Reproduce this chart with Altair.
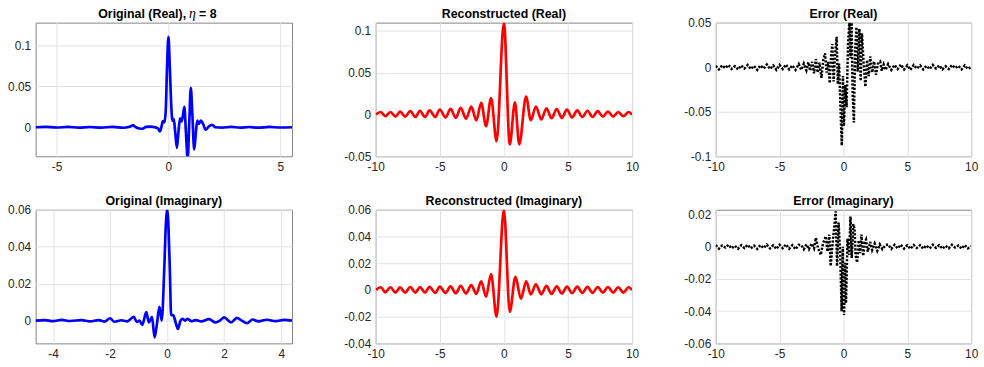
import altair as alt
import pandas as pd

FONT = "Liberation Sans"

# ---------------- Original (Real) ----------------
orig_re_x = [-5.93, -5.5, -5.0, -4.5, -4.0, -3.5, -3.0, -2.5, -2.0, -1.75, -1.58, -1.45, -1.3, -1.16,
             -1.0, -0.8, -0.6, -0.45, -0.38, -0.3, -0.25, -0.18, -0.12, -0.06, 0.0, 0.06, 0.12, 0.18,
             0.24, 0.3, 0.38, 0.45, 0.52, 0.58, 0.64, 0.71, 0.78, 0.86, 0.93, 1.0, 1.07, 1.15, 1.22,
             1.29, 1.36, 1.45, 1.55, 1.66, 1.8, 1.95, 2.1, 2.4, 2.8, 3.2, 3.6, 4.0, 4.5, 5.0, 5.52]
orig_re_y = [0.0, 0.0005, -0.0003, 0.0004, -0.0004, 0.0003, -0.0005, 0.0005, -0.0006, 0.0006, 0.0022, 0.0,
             -0.0015, -0.0018, 0.0005, 0.0008, 0.0, -0.002, -0.005, 0.002, 0.0075, 0.006, 0.02, 0.075, 0.11,
             0.075, 0.03, 0.008, 0.01, -0.005, -0.025, -0.005, 0.011, 0.007, 0.013, 0.025, -0.005, -0.038,
             0.005, 0.048, 0.015, -0.027, -0.008, 0.008, 0.004, 0.008, 0.004, -0.003, 0.001, 0.003, 0.0,
             -0.0005, 0.0005, -0.0004, 0.0003, -0.0005, 0.0004, -0.0003, 0.0]

# ---------------- Reconstructed (Real) ----------------
rec_re_x = [-10, -9.6, -9.25, -8.85, -8.45, -8.1, -7.7, -7.3, -6.9, -6.55, -6.15, -5.8, -5.35, -5.0,
            -4.55, -4.16, -3.75, -3.37, -2.95, -2.54, -2.15, -1.77, -1.39, -1.0, -0.57, 0.0, 0.46, 0.86,
            1.2, 1.73, 2.1, 2.5, 2.92, 3.32, 3.72, 4.12, 4.52, 4.92, 5.32, 5.72, 6.12, 6.52, 6.92, 7.32,
            7.72, 8.12, 8.52, 8.92, 9.32, 9.72, 10]
rec_re_y = [0.0, 0.003, -0.002, 0.003, -0.0025, 0.0035, -0.0025, 0.004, -0.003, 0.0045, -0.003, 0.005,
            -0.003, 0.006, -0.0035, 0.0067, -0.004, 0.008, -0.005, 0.0095, -0.007, 0.014, -0.014, 0.0196,
            -0.032, 0.11, -0.0357, 0.0147, -0.0357, 0.0214, -0.0068, 0.0095, -0.006, 0.0075, -0.0045,
            0.0065, -0.004, 0.006, -0.0035, 0.005, -0.003, 0.0045, -0.003, 0.004, -0.0025, 0.0035,
            -0.0025, 0.003, -0.002, 0.003, 0.0]

# ---------------- Error (Real) ----------------
err_re_x = [-10.0, -9.75, -9.5, -9.25, -9.0, -8.75, -8.5, -8.25, -8.0, -7.75, -7.5, -7.25, -7.0, -6.75,
            -6.5, -6.25, -6.0, -5.75, -5.5, -5.25, -5.0, -4.75, -4.5, -4.25, -4.0, -3.75, -3.5,
            -3.3, -3.1, -2.9, -2.75, -2.6, -2.45, -2.3, -2.16, -2.02, -1.88, -1.72, -1.58, -1.44, -1.32,
            -1.2, -1.07, -0.97, -0.87, -0.77, -0.65, -0.53, -0.44, -0.34, -0.22, -0.13, -0.04, 0.04,
            0.14, 0.25, 0.36, 0.47, 0.55, 0.64, 0.72, 0.82, 0.92, 1.02, 1.12, 1.25, 1.35, 1.45, 1.58,
            1.72, 1.85, 1.98, 2.1, 2.25, 2.4, 2.55, 2.7, 2.88, 3.0, 3.15, 3.3,
            3.5, 3.75, 4.0, 4.25, 4.5, 4.75, 5.0, 5.25, 5.5, 5.75, 6.0, 6.25, 6.5, 6.75, 7.0, 7.25,
            7.5, 7.75, 8.0, 8.25, 8.5, 8.75, 9.0, 9.25, 9.5, 9.75, 10.0]
err_re_y = [0.0015, -0.0025, 0.002, -0.001, 0.0025, -0.002, 0.001, -0.0025, 0.002, -0.0015, 0.0025,
            -0.002, 0.0015, -0.003, 0.002, -0.0015, 0.003, -0.002, 0.002, -0.003, 0.0025, -0.002, 0.003,
            -0.0025, 0.002, -0.003, 0.0035,
            -0.003, 0.004, -0.0035, 0.0055, -0.004, 0.006, -0.007, 0.009, -0.006, 0.005, -0.012, 0.008,
            0.0155, -0.006, 0.006, -0.018, 0.012, 0.026, -0.016, 0.014, 0.034, -0.019, 0.004, -0.05,
            -0.088, -0.01, -0.066, -0.02, -0.045, 0.027, 0.052, 0.01, 0.052, -0.03, -0.062, 0.02, 0.045,
            -0.005, 0.043, -0.0155, 0.038, 0.005, -0.022, 0.008, -0.01, 0.012, -0.006, 0.0065, -0.0085,
            0.004, 0.0063, -0.004, 0.003, -0.003,
            0.0035, -0.003, 0.0025, -0.002, 0.003, -0.0025, 0.002, -0.003, 0.0025, -0.0015, 0.002,
            -0.0025, 0.0015, -0.002, 0.0025, -0.0015, 0.002, -0.0025, 0.001, -0.002, 0.0025, -0.001,
            0.0015, -0.0025, 0.002, -0.002, 0.0005]

# ---------------- Original (Imaginary) ----------------
orig_im_x = [-4.61, -4.3, -4.0, -3.7, -3.4, -3.0, -2.7, -2.4, -2.2, -2.0, -1.85, -1.6, -1.4, -1.17,
             -1.06, -0.97, -0.87, -0.73, -0.64, -0.53, -0.44, -0.36, -0.27, -0.19, -0.1, -0.05, 0.0,
             0.05, 0.1, 0.14, 0.21, 0.3, 0.38, 0.47, 0.54, 0.63, 0.72, 0.85, 1.0, 1.2, 1.47, 1.7, 1.85,
             2.0, 2.24, 2.45, 2.62, 2.8, 3.0, 3.2, 3.5, 3.8, 4.1, 4.38]
orig_im_y = [0.0, 0.0003, -0.0003, 0.0004, -0.0002, 0.0003, -0.0004, 0.0003, -0.0005, 0.0013, -0.0006,
             0.0002, -0.0004, 0.002, -0.0007, 0.0, -0.0023, 0.0046, -0.001, 0.002, -0.0091, -0.002,
             0.0075, 0.0, 0.028, 0.05, 0.06, 0.05, 0.025, 0.003, 0.003, -0.001, -0.0045, 0.0, 0.001,
             0.0, 0.001, -0.0003, 0.0003, -0.0004, 0.0008, -0.001, 0.0, 0.0018, -0.001, 0.0015, 0.0,
             -0.0014, 0.0006, -0.0004, 0.0005, -0.0003, 0.0004, 0.0]

# ---------------- Reconstructed (Imaginary) ----------------
rec_im_x = [-10, -9.6, -9.25, -8.85, -8.45, -8.1, -7.7, -7.3, -6.9, -6.55, -6.15, -5.8, -5.35, -5.0,
            -4.55, -4.16, -3.75, -3.37, -2.95, -2.54, -2.15, -1.77, -1.39, -1.0, -0.57, 0.0, 0.46, 0.9,
            1.33, 1.74, 2.1, 2.5, 2.92, 3.32, 3.72, 4.12, 4.52, 4.92, 5.32, 5.72, 6.12, 6.52, 6.92, 7.32,
            7.72, 8.12, 8.52, 8.92, 9.32, 9.72, 10]
rec_im_y = [0.0, 0.002, -0.0018, 0.002, -0.002, 0.002, -0.002, 0.0022, -0.002, 0.0022, -0.002, 0.0023,
            -0.0022, 0.0025, -0.0023, 0.0027, -0.0025, 0.003, -0.0027, 0.0037, -0.003, 0.0064, -0.005,
            0.0118, -0.020, 0.06, -0.0164, 0.0098, -0.0066, 0.0064, -0.0034, 0.0042, -0.0033, 0.003,
            -0.003, 0.0027, -0.0027, 0.0025, -0.0025, 0.0024, -0.0022, 0.0023, -0.0022, 0.0022, -0.002,
            0.0022, -0.002, 0.002, -0.002, 0.002, 0.0]

# ---------------- Error (Imaginary) ----------------
err_im_x = [-10.0, -9.75, -9.5, -9.25, -9.0, -8.75, -8.5, -8.25, -8.0, -7.75, -7.5, -7.25, -7.0, -6.75,
            -6.5, -6.25, -6.0, -5.75, -5.5, -5.25, -5.0, -4.75, -4.5, -4.25, -4.0, -3.75, -3.5,
            -3.3, -3.1, -2.9, -2.7, -2.5, -2.3, -2.16, -1.98, -1.77, -1.6, -1.38, -1.25, -1.1, -1.0,
            -0.85, -0.72, -0.61, -0.5, -0.38, -0.25, -0.14, -0.05, 0.05, 0.14, 0.2, 0.32, 0.45, 0.55,
            0.65, 0.77, 0.87, 0.95, 1.07, 1.2, 1.3, 1.41, 1.55, 1.68, 1.77, 1.9, 2.1, 2.25, 2.45, 2.65,
            2.85, 3.05, 3.3,
            3.5, 3.75, 4.0, 4.25, 4.5, 4.75, 5.0, 5.25, 5.5, 5.75, 6.0, 6.25, 6.5, 6.75, 7.0, 7.25,
            7.5, 7.75, 8.0, 8.25, 8.5, 8.75, 9.0, 9.25, 9.5, 9.75, 10.0]
err_im_y = [0.001, -0.0012, 0.0008, -0.0005, 0.0012, -0.001, 0.0006, -0.0012, 0.001, -0.0008, 0.0012,
            -0.001, 0.0007, -0.0013, 0.001, -0.0008, 0.0013, -0.001, 0.0009, -0.0014, 0.0012, -0.0009,
            0.0014, -0.0012, 0.001, -0.0015, 0.0012,
            0.001, -0.0015, 0.0015, -0.0015, 0.002, -0.001, 0.0055, -0.001, -0.005, 0.002, 0.0065,
            -0.003, 0.0075, -0.012, 0.002, 0.012, 0.022, -0.012, 0.015, -0.005, -0.04, 0.0, -0.0424,
            -0.01, -0.035, 0.005, -0.005, 0.0188, -0.007, 0.014, 0.0116, -0.005, -0.0098, 0.004, -0.004,
            0.0075, -0.0057, 0.003, 0.0045, -0.003, 0.003, -0.002, 0.002, -0.0025, 0.0015, -0.0015,
            0.001,
            0.0014, -0.0013, 0.0012, -0.001, 0.0013, -0.0011, 0.0009, -0.0013, 0.0011, -0.0007, 0.001,
            -0.0012, 0.0008, -0.001, 0.0012, -0.0007, 0.001, -0.0012, 0.0006, -0.001, 0.0012, -0.0005,
            0.0008, -0.0012, 0.001, -0.001, 0.0003]

LABEL_EXPR = ("datum.value == 0 ? '0' : (datum.value < 0 ? '-' : '') + "
              "format(abs(datum.value), '~g')")

TITLE_Y = -4.5


def axis(values):
    return alt.Axis(values=values, grid=True, gridColor="#e2e2e2", gridWidth=1, domain=False,
                    ticks=False, labelExpr=LABEL_EXPR, labelFont=FONT, labelFontSize=12,
                    labelColor="#262626", labelPadding=5, labelFlush=False, title=None)


def title_piece(text, x, align="center", italic=False):
    kw = dict(text=text, align=align, baseline="alphabetic", color="black")
    if italic:
        kw.update(font="Liberation Serif", fontSize=14, fontStyle="italic", fontWeight="normal")
    else:
        kw.update(font=FONT, fontSize=12.5, fontWeight="bold")
    return alt.Chart().mark_text(**kw).encode(x=alt.value(x), y=alt.value(TITLE_Y))


def panel(xs, ys, pieces, xdom, ydom, xticks, yticks, color, dotted=False, w=259, h=135):
    df = pd.DataFrame({"x": xs, "y": ys, "i": list(range(len(xs)))})
    if dotted:
        base = alt.Chart(df).mark_line(clip=True, color=color, strokeWidth=2.5,
                                       strokeDash=[2.2, 1.6], strokeCap="butt")
    else:
        base = alt.Chart(df).mark_line(clip=True, color=color, strokeWidth=2.7,
                                       interpolate="monotone", strokeJoin="round")
    line = base.encode(
        x=alt.X("x:Q", scale=alt.Scale(domain=xdom, nice=False, zero=False), axis=axis(xticks)),
        y=alt.Y("y:Q", scale=alt.Scale(domain=ydom, nice=False, zero=False), axis=axis(yticks)),
        order="i:Q",
    )
    if isinstance(pieces, str):
        pieces = [title_piece(pieces, w / 2)]
    return alt.layer(line, *pieces).properties(width=w, height=h)


p1_title = [
    title_piece("Original (Real),", 152, align="right"),
    title_piece("\u03b7", 158.5, italic=True),
    title_piece("= 8", 165, align="left"),
]

p1 = panel(orig_re_x, orig_re_y, p1_title, [-5.93, 5.52], [-0.0353, 0.1273],
           [-5, 0, 5], [0, 0.05, 0.1], "#0000ff")
p2 = panel(rec_re_x, rec_re_y, "Reconstructed (Real)", [-10, 10], [-0.05, 0.11],
           [-10, -5, 0, 5, 10], [-0.05, 0, 0.05, 0.1], "#ff0000")
p3 = panel(err_re_x, err_re_y, "Error (Real)", [-10, 10], [-0.1, 0.05],
           [-10, -5, 0, 5, 10], [-0.1, -0.05, 0, 0.05], "black", dotted=True, w=258)
p4 = panel(orig_im_x, orig_im_y, "Original (Imaginary)", [-4.61, 4.38], [-0.0123, 0.06],
           [-4, -2, 0, 2, 4], [0, 0.02, 0.04, 0.06], "#0000ff")
p5 = panel(rec_im_x, rec_im_y, "Reconstructed (Imaginary)", [-10, 10], [-0.04, 0.06],
           [-10, -5, 0, 5, 10], [-0.04, -0.02, 0, 0.02, 0.04, 0.06], "#ff0000")
p6 = panel(err_im_x, err_im_y, "Error (Imaginary)", [-10, 10], [-0.06, 0.023],
           [-10, -5, 0, 5, 10], [-0.06, -0.04, -0.02, 0, 0.02], "black", dotted=True, w=258)

chart = alt.concat(p1, p2, p3, p4, p5, p6, columns=3, spacing={"row": 54, "column": 84.5},
                   bounds="flush").properties(
    padding={"left": 7, "top": 5, "right": 5, "bottom": 5},
    background="white",
).configure_view(stroke="#858585", strokeWidth=1)

chart.save("out.html", embed_options={"renderer": "svg", "actions": False})
